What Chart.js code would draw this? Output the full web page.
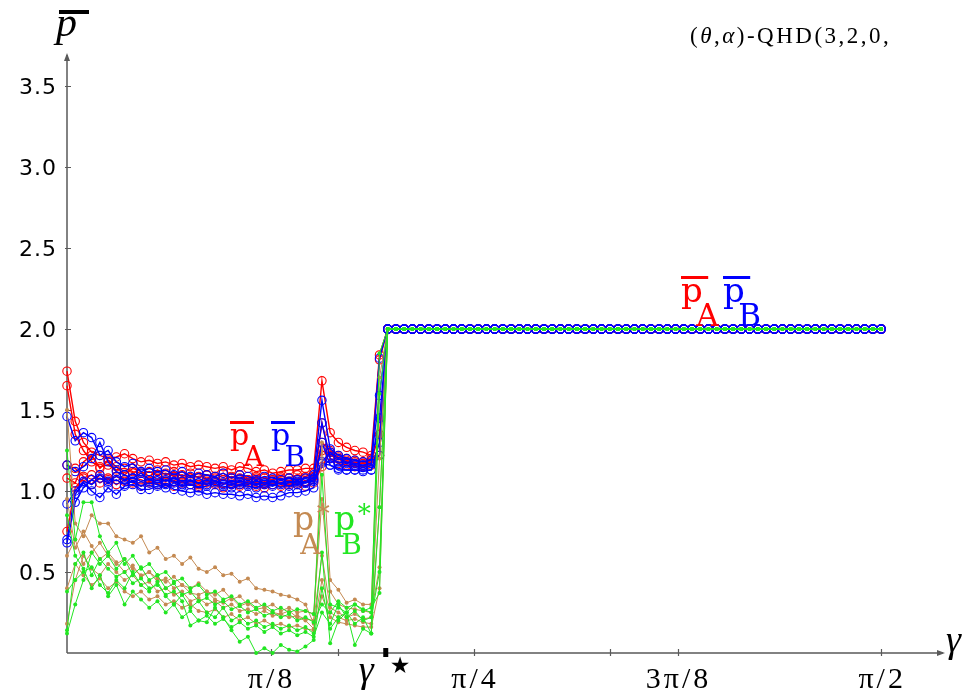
<!DOCTYPE html>
<html>
<head>
<meta charset="utf-8">
<title>mean payoff vs gamma</title>
<script src="https://cdn.jsdelivr.net/npm/chart.js@4.4.1/dist/chart.umd.min.js"></script>
<style>
    html, body { margin: 0; padding: 0; background: #fff; }
    canvas { display: block; }
</style>
</head>
<body>
<canvas id="chart" width="978" height="694"></canvas>
<script>
// gamma is sampled on 100 even steps from 0 to pi/2
const gammaCount = 100;
const gammaMax = Math.PI / 2;
const gammaStar = 0.615;

// first 39 samples of each run; from sample 39 on every run sits at 2.0
const plateauValue = 2.0;

// mean payoff of player A (red)
const pA1 = [1.74, 1.43, 1.30, 1.24, 1.22, 1.20, 1.21, 1.23, 1.20, 1.18, 1.19, 1.17, 1.18, 1.16, 1.17, 1.15, 1.16, 1.15, 1.14, 1.15, 1.13, 1.15, 1.14, 1.12, 1.13, 1.11, 1.12, 1.13, 1.13, 1.14, 1.14, 1.68, 1.36, 1.30, 1.27, 1.25, 1.24, 1.22, 1.84];
const pA2 = [1.65, 1.35, 1.25, 1.18, 1.15, 1.16, 1.13, 1.14, 1.12, 1.11, 1.12, 1.10, 1.11, 1.09, 1.10, 1.08, 1.09, 1.10, 1.08, 1.07, 1.09, 1.08, 1.07, 1.08, 1.06, 1.07, 1.08, 1.06, 1.07, 1.08, 1.09, 1.30, 1.25, 1.22, 1.20, 1.19, 1.18, 1.20, 1.22];
const pA3 = [1.16, 1.14, 1.09, 1.04, 1.10, 1.07, 1.09, 1.06, 1.08, 1.07, 1.05, 1.07, 1.06, 1.08, 1.05, 1.06, 1.04, 1.06, 1.05, 1.07, 1.05, 1.04, 1.06, 1.05, 1.04, 1.06, 1.05, 1.04, 1.05, 1.06, 1.07, 1.42, 1.20, 1.17, 1.16, 1.15, 1.15, 1.16, 1.81];
const pA4 = [1.08, 1.05, 1.18, 1.22, 1.14, 1.19, 1.15, 1.10, 1.14, 1.12, 1.09, 1.13, 1.10, 1.12, 1.09, 1.11, 1.08, 1.10, 1.09, 1.11, 1.08, 1.10, 1.07, 1.09, 1.08, 1.07, 1.09, 1.08, 1.10, 1.09, 1.11, 1.25, 1.22, 1.20, 1.18, 1.18, 1.17, 1.19, 1.35];
const pA5 = [0.75, 1.02, 1.08, 1.10, 1.05, 1.08, 1.04, 1.07, 1.05, 1.03, 1.06, 1.04, 1.05, 1.03, 1.06, 1.04, 1.03, 1.05, 1.04, 1.02, 1.04, 1.03, 1.05, 1.03, 1.02, 1.04, 1.03, 1.05, 1.04, 1.03, 1.05, 1.15, 1.24, 1.21, 1.19, 1.17, 1.17, 1.18, 1.22];

// mean payoff of player B (blue)
const pB1 = [1.46, 1.31, 1.36, 1.33, 1.22, 1.25, 1.18, 1.15, 1.17, 1.12, 1.14, 1.12, 1.13, 1.10, 1.12, 1.09, 1.11, 1.10, 1.09, 1.11, 1.08, 1.10, 1.09, 1.07, 1.09, 1.08, 1.07, 1.08, 1.07, 1.08, 1.10, 1.56, 1.26, 1.22, 1.20, 1.19, 1.18, 1.19, 1.59];
const pB2 = [1.16, 1.12, 1.15, 1.20, 1.30, 1.18, 1.12, 1.10, 1.08, 1.11, 1.07, 1.09, 1.06, 1.08, 1.06, 1.07, 1.05, 1.07, 1.06, 1.04, 1.06, 1.05, 1.04, 1.06, 1.05, 1.04, 1.05, 1.06, 1.05, 1.06, 1.08, 1.42, 1.20, 1.18, 1.17, 1.16, 1.16, 1.17, 1.82];
const pB3 = [0.92, 1.00, 1.06, 1.04, 1.08, 1.05, 1.07, 1.04, 1.06, 1.03, 1.05, 1.04, 1.02, 1.05, 1.03, 1.04, 1.02, 1.03, 1.05, 1.03, 1.02, 1.04, 1.03, 1.02, 1.04, 1.03, 1.05, 1.03, 1.04, 1.05, 1.06, 1.17, 1.16, 1.13, 1.13, 1.13, 1.13, 1.13, 1.30];
const pB4 = [0.70, 0.98, 1.05, 1.00, 0.96, 1.02, 0.98, 1.03, 1.04, 1.01, 1.01, 1.03, 1.04, 1.01, 1.00, 0.99, 1.00, 0.98, 0.99, 0.98, 0.98, 0.97, 0.98, 0.96, 0.97, 0.96, 0.97, 0.99, 0.99, 1.00, 1.02, 1.30, 1.16, 1.14, 1.13, 1.13, 1.12, 1.13, 1.22];
const pB5 = [0.68, 0.93, 1.02, 1.07, 1.10, 1.06, 1.09, 1.07, 1.08, 1.06, 1.07, 1.05, 1.07, 1.06, 1.04, 1.06, 1.05, 1.04, 1.06, 1.05, 1.04, 1.06, 1.05, 1.04, 1.05, 1.06, 1.04, 1.05, 1.06, 1.05, 1.07, 1.18, 1.24, 1.20, 1.18, 1.17, 1.16, 1.17, 1.45];

// p*_A (brown)
const pAstar1 = [1.50, 0.80, 0.72, 0.85, 0.80, 0.80, 0.72, 0.70, 0.68, 0.72, 0.62, 0.65, 0.58, 0.60, 0.55, 0.59, 0.52, 0.50, 0.53, 0.48, 0.49, 0.44, 0.46, 0.40, 0.39, 0.38, 0.36, 0.35, 0.33, 0.30, 0.18, 1.30, 0.45, 0.39, 0.31, 0.33, 0.30, 0.30, 1.70];
const pAstar2 = [0.60, 0.70, 0.55, 0.62, 0.68, 0.60, 0.55, 0.58, 0.52, 0.48, 0.50, 0.46, 0.44, 0.47, 0.42, 0.40, 0.43, 0.38, 0.36, 0.39, 0.33, 0.35, 0.30, 0.32, 0.28, 0.30, 0.26, 0.28, 0.25, 0.26, 0.24, 0.95, 0.38, 0.30, 0.28, 0.27, 0.26, 0.25, 0.53];
const pAstar3 = [0.18, 0.45, 0.60, 0.52, 0.48, 0.55, 0.50, 0.45, 0.48, 0.42, 0.44, 0.38, 0.40, 0.36, 0.38, 0.32, 0.34, 0.30, 0.32, 0.28, 0.30, 0.26, 0.27, 0.24, 0.26, 0.23, 0.24, 0.22, 0.23, 0.21, 0.20, 0.60, 0.28, 0.25, 0.22, 0.24, 0.21, 0.22, 1.20];
const pAstar4 = [0.95, 0.65, 0.75, 0.66, 0.58, 0.62, 0.56, 0.50, 0.54, 0.47, 0.50, 0.44, 0.46, 0.40, 0.42, 0.37, 0.36, 0.38, 0.33, 0.31, 0.34, 0.29, 0.31, 0.27, 0.28, 0.25, 0.24, 0.26, 0.22, 0.20, 0.15, 0.45, 0.25, 0.22, 0.20, 0.21, 0.19, 0.18, 0.90];
const pAstar5 = [0.40, 0.55, 0.48, 0.42, 0.46, 0.40, 0.44, 0.38, 0.35, 0.38, 0.33, 0.35, 0.30, 0.32, 0.28, 0.30, 0.26, 0.25, 0.27, 0.22, 0.24, 0.20, 0.22, 0.18, 0.20, 0.17, 0.18, 0.16, 0.17, 0.15, 0.14, 0.35, 0.22, 0.19, 0.18, 0.17, 0.16, 0.16, 0.40];

// p*_B (green)
const pBstar1 = [1.25, 0.70, 0.93, 0.93, 0.72, 0.62, 0.68, 0.55, 0.60, 0.52, 0.55, 0.48, 0.50, 0.44, 0.46, 0.40, 0.42, 0.36, 0.38, 0.33, 0.35, 0.30, 0.32, 0.28, 0.30, 0.26, 0.28, 0.25, 0.27, 0.26, 0.24, 1.10, 0.30, 0.28, 0.25, 0.30, 0.27, 0.25, 1.85];
const pBstar2 = [0.38, 0.45, 0.50, 0.53, 0.42, 0.37, 0.45, 0.40, 0.50, 0.42, 0.38, 0.44, 0.35, 0.30, 0.36, 0.28, 0.32, 0.25, 0.22, 0.28, 0.20, 0.23, 0.18, 0.20, 0.16, 0.18, 0.15, 0.17, 0.14, 0.16, 0.12, 0.62, 0.06, 0.20, 0.25, 0.18, 0.22, 0.12, 1.60];
const pBstar3 = [0.14, 0.55, 0.62, 0.48, 0.58, 0.52, 0.47, 0.50, 0.43, 0.46, 0.40, 0.42, 0.36, 0.38, 0.32, 0.17, 0.20, 0.19, 0.28, 0.22, 0.14, 0.07, 0.10, 0.00, 0.03, 0.00, 0.05, 0.02, 0.01, 0.04, 0.08, 0.40, 0.15, 0.22, 0.25, 0.05, 0.15, 0.12, 0.90];
const pBstar4 = [0.12, 0.30, 0.45, 0.62, 0.55, 0.60, 0.52, 0.58, 0.48, 0.53, 0.45, 0.48, 0.40, 0.43, 0.36, 0.38, 0.32, 0.34, 0.30, 0.32, 0.27, 0.29, 0.25, 0.27, 0.23, 0.25, 0.22, 0.24, 0.20, 0.22, 0.19, 0.30, 0.25, 0.32, 0.28, 0.30, 0.26, 0.28, 0.37];
const pBstar5 = [0.85, 0.60, 0.52, 0.40, 0.48, 0.35, 0.42, 0.30, 0.38, 0.33, 0.28, 0.32, 0.25, 0.30, 0.22, 0.26, 0.20, 0.23, 0.18, 0.21, 0.16, 0.19, 0.15, 0.17, 0.13, 0.16, 0.12, 0.14, 0.11, 0.13, 0.10, 0.25, 0.18, 0.30, 0.22, 0.26, 0.20, 0.22, 0.50];

// axis ticks
const xTickValues = [Math.PI / 8, Math.PI / 4, 3 * Math.PI / 8, Math.PI / 2];
const xTickLabels = ['π/8', 'π/4', '3π/8', 'π/2'];
const xMinorTicks = [Math.PI / 6, Math.PI / 3];
const yTickValues = [0.5, 1.0, 1.5, 2.0, 2.5, 3.0, 3.5];
const yTickLabels = ['0.5', '1.0', '1.5', '2.0', '2.5', '3.0', '3.5'];

const RED = '#ff0000';
const BLUE = '#0000ff';
const BROWN = '#c48a52';
const GREEN = '#22e622';
const AXIS = '#5a5a5a';
const LABEL_FONT = '"DejaVu Serif"';

function toPoints(values) {
    const pts = [];
    for (let i = 0; i < gammaCount; i++) {
        const g = i * gammaMax / (gammaCount - 1);
        const v = i < values.length ? values[i] : plateauValue;
        pts.push({ x: g, y: v });
    }
    return pts;
}

function meanRun(values, color) {
    return {
        data: toPoints(values),
        borderColor: color,
        borderWidth: 1.4,
        pointRadius: 4.2,
        pointBorderWidth: 1.1,
        pointBorderColor: color,
        pointBackgroundColor: 'rgba(0,0,0,0)',
        clip: false,
    };
}

function starRun(values, color) {
    return {
        data: toPoints(values),
        borderColor: color,
        borderWidth: 1,
        pointRadius: 2,
        pointBorderWidth: 0,
        pointBackgroundColor: color,
        clip: false,
    };
}

// first dataset is drawn on top
const datasets = [
    ...[pBstar1, pBstar2, pBstar3, pBstar4, pBstar5].map(v => starRun(v, GREEN)),
    ...[pAstar1, pAstar2, pAstar3, pAstar4, pAstar5].map(v => starRun(v, BROWN)),
    ...[pB1, pB2, pB3, pB4, pB5].map(v => meanRun(v, BLUE)),
    ...[pA1, pA2, pA3, pA4, pA5].map(v => meanRun(v, RED)),
];

function text(ctx, s, x, y, font, color, align) {
    ctx.font = font;
    ctx.fillStyle = color;
    ctx.textAlign = align || 'left';
    ctx.textBaseline = 'alphabetic';
    ctx.fillText(s, x, y);
}

// p with overbar and subscript, x/y = left/baseline of the p
function barP(ctx, x, y, size, sub, color) {
    text(ctx, 'p', x, y, `${size}px ${LABEL_FONT}`, color);
    ctx.fillStyle = color;
    ctx.fillRect(x, Math.round(y - size * 0.52 - 8), size * 0.8, 3);
    text(ctx, sub, x + size * 0.45, y + size * 0.7, `${Math.round(size * 0.92)}px ${LABEL_FONT}`, color);
}

function starP(ctx, x, y, size, sub, color) {
    text(ctx, 'p', x, y, `${size}px ${LABEL_FONT}`, color);
    text(ctx, sub, x + size * 0.22, y + size * 0.72, `${Math.round(size * 0.85)}px ${LABEL_FONT}`, color);
    text(ctx, '*', x + size * 0.72, y - size * 0.22, `${Math.round(size * 0.8)}px ${LABEL_FONT}`, color);
}

function arrowHead(ctx, x, y, dir) {
    ctx.save();
    ctx.translate(x, y);
    ctx.rotate(dir);
    ctx.beginPath();
    ctx.moveTo(0, 0);
    ctx.lineTo(-8, -3);
    ctx.lineTo(-8, 3);
    ctx.closePath();
    ctx.fillStyle = AXIS;
    ctx.fill();
    ctx.restore();
}

const axesPlugin = {
    id: 'axes',
    beforeDatasetsDraw(chart) {
        const { ctx, chartArea, scales } = chart;
        const xs = scales.x, ys = scales.y;
        const x0 = xs.getPixelForValue(0);
        const y0 = ys.getPixelForValue(0);
        ctx.save();
        ctx.strokeStyle = AXIS;
        ctx.lineWidth = 1.5;
        ctx.beginPath();
        ctx.moveTo(x0, y0);
        ctx.lineTo(chartArea.right - 2, y0);
        ctx.moveTo(x0, y0);
        ctx.lineTo(x0, chartArea.top + 2);
        ctx.stroke();
        arrowHead(ctx, chartArea.right, y0, 0);
        arrowHead(ctx, x0, chartArea.top, -Math.PI / 2);

        ctx.lineWidth = 1.2;
        ctx.beginPath();
        xTickValues.concat(xMinorTicks).forEach(v => {
            const px = Math.round(xs.getPixelForValue(v)) + 0.5;
            ctx.moveTo(px, y0 - 4);
            ctx.lineTo(px, y0 + 3);
        });
        yTickValues.forEach(v => {
            const py = Math.round(ys.getPixelForValue(v)) + 0.5;
            ctx.moveTo(x0 - 2, py);
            ctx.lineTo(x0 + 4, py);
        });
        ctx.stroke();

        ctx.letterSpacing = '3px';
        xTickValues.forEach((v, i) => {
            text(ctx, xTickLabels[i], xs.getPixelForValue(v) + 1, y0 + 35, '30px "Liberation Serif"', '#000', 'center');
        });
        ctx.letterSpacing = '1px';
        yTickValues.forEach((v, i) => {
            text(ctx, yTickLabels[i], x0 - 10, ys.getPixelForValue(v) + 8, '22px "DejaVu Sans"', '#000', 'right');
        });
        ctx.letterSpacing = '0px';
        ctx.restore();
    },
    afterDatasetsDraw(chart) {
        const { ctx, scales } = chart;
        const xs = scales.x, ys = scales.y;
        const x0 = xs.getPixelForValue(0);
        const y0 = ys.getPixelForValue(0);
        ctx.save();

        // gamma* marker on the axis
        const gx = xs.getPixelForValue(gammaStar);
        ctx.fillStyle = '#000';
        ctx.fillRect(gx - 2.5, y0 - 5, 5, 9);
        text(ctx, 'γ', gx - 27, y0 + 29, 'italic 38px "Liberation Serif"', '#000');
        text(ctx, '★', gx + 4, y0 + 20, '23px "DejaVu Sans"', '#000');

        // axis titles
        text(ctx, 'γ', xs.getPixelForValue(0) + 879, y0 - 1, 'italic 38px "Liberation Serif"', '#000');
        text(ctx, 'p', x0 - 11, 36, 'italic 42px "Liberation Serif"', '#000');
        ctx.fillStyle = '#000';
        ctx.fillRect(x0 - 8, 10, 30, 4);

        // title, cut short like the original
        ctx.letterSpacing = '2.5px';
        let tx = 690;
        [['(', 'normal'], ['θ', 'italic'], [',', 'normal'], ['α', 'italic'], [')-QHD(3,2,0,', 'normal']].forEach(([s, st]) => {
            ctx.font = `${st} 23px "Liberation Serif"`;
            ctx.fillStyle = '#000';
            ctx.textAlign = 'left';
            ctx.fillText(s, tx, 43);
            tx += ctx.measureText(s).width;
        });
        ctx.letterSpacing = '0px';

        // series labels
        barP(ctx, 230, 445, 30, 'A', RED);
        barP(ctx, 271, 445, 30, 'B', BLUE);
        barP(ctx, 681, 302, 34, 'A', RED);
        barP(ctx, 723, 302, 34, 'B', BLUE);
        starP(ctx, 293, 530, 33, 'A', BROWN);
        starP(ctx, 334, 530, 33, 'B', GREEN);
        ctx.restore();
    }
};

new Chart(document.getElementById('chart'), {
    type: 'line',
    data: { datasets },
    options: {
        responsive: false,
        animation: false,
        events: [],
        layout: { padding: { left: 67, right: 33, top: 53, bottom: 41 } },
        elements: { line: { tension: 0 } },
        plugins: { legend: { display: false }, tooltip: { enabled: false } },
        scales: {
            x: { type: 'linear', min: 0, max: 1.694, display: false },
            y: { type: 'linear', min: 0, max: 3.704, display: false }
        }
    },
    plugins: [axesPlugin]
});
</script>
</body>
</html>
